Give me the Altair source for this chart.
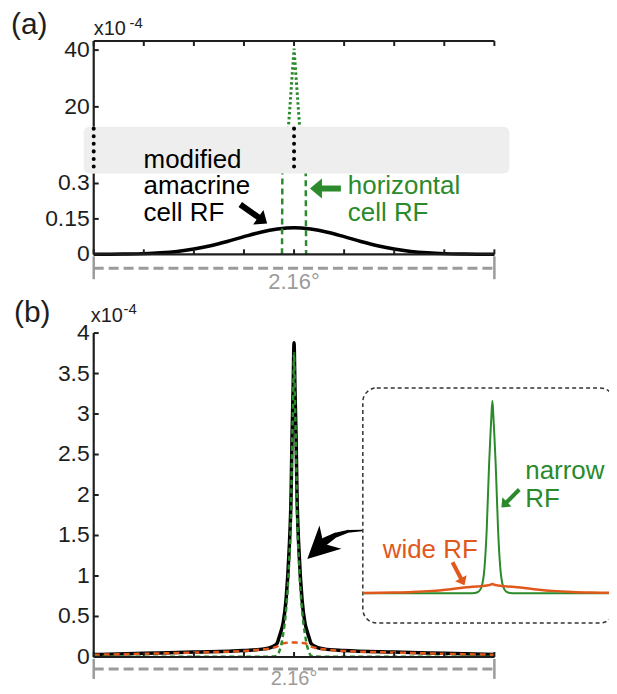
import altair as alt
import pandas as pd

FONT = "Liberation Sans"
INK = "#1e1e1e"
GREEN = "#2b8a2b"
ORANGE = "#e0581c"
GRAY = "#9b9b9b"
BAND = "#eeeeee"

# ---------------- data ----------------
XTICKS = [-1.08, -0.81, -0.54, -0.27, 0, 0.27, 0.54, 0.81, 1.08]
A_TOP_YTICKS = [20, 40]
A_TOP_YLABELS = ["20", "40"]
A_LOW_YTICKS = [0, 0.15, 0.3]
A_LOW_YLABELS = ["0", "0.15", "0.3"]
B_YTICKS = [0, 0.5, 1, 1.5, 2, 2.5, 3, 3.5, 4]
B_YLABELS = ["0", "0.5", "1", "1.5", "2", "2.5", "3", "3.5", "4"]

# (a) modified amacrine cell RF (x1e-4)
A_X = [-1.08, -0.99, -0.9, -0.81, -0.72, -0.63, -0.54, -0.45, -0.36, -0.27, -0.18, -0.09, 0,
       0.09, 0.18, 0.27, 0.36, 0.45, 0.54, 0.63, 0.72, 0.81, 0.9, 0.99, 1.08]
A_AMACRINE = [0.0001, 0.0004, 0.0012, 0.0029, 0.0063, 0.0123, 0.0222, 0.0364, 0.0545, 0.0747, 0.0936, 0.107, 0.113,
              0.107, 0.0936, 0.0747, 0.0545, 0.0364, 0.0222, 0.0123, 0.0063, 0.0029, 0.0012, 0.0004, 0.0001]
# (a) horizontal cell RF (x1e-4)
A_HX = [-0.065, -0.062, -0.03, 0, 0.03, 0.062, 0.065]
A_HORIZ = [0, 0.5, 13, 40.5, 13, 0.5, 0]

# (b) curves (x1e-4)
B_X = [-1.08, -0.806, -0.537, -0.269, -0.161, -0.118, -0.091, -0.081, -0.07, -0.059, -0.043, -0.027, -0.016, -0.011, -0.005, 0,
       0.005, 0.011, 0.016, 0.027, 0.043, 0.059, 0.07, 0.081, 0.091, 0.118, 0.161, 0.269, 0.537, 0.806, 1.08]
B_SUM = [0.03, 0.045, 0.06, 0.08, 0.1, 0.125, 0.17, 0.24, 0.32, 0.42, 0.71, 1.3, 2.0, 2.7, 3.3, 3.88,
         3.3, 2.7, 2.0, 1.3, 0.71, 0.42, 0.32, 0.24, 0.17, 0.125, 0.1, 0.08, 0.06, 0.045, 0.03]
B_WIDE = [0.027, 0.04, 0.055, 0.075, 0.095, 0.11, 0.13, 0.145, 0.16, 0.17, 0.174, 0.176, 0.177, 0.178, 0.179, 0.18,
          0.179, 0.178, 0.177, 0.176, 0.174, 0.17, 0.16, 0.145, 0.13, 0.11, 0.095, 0.075, 0.055, 0.04, 0.027]
B_NARROW = [0.002, 0.002, 0.003, 0.004, 0.004, 0.005, 0.015, 0.06, 0.14, 0.28, 0.58, 1.15, 1.85, 2.55, 3.15, 3.75,
            3.15, 2.55, 1.85, 1.15, 0.58, 0.28, 0.14, 0.06, 0.015, 0.005, 0.004, 0.004, 0.003, 0.002, 0.002]

# (b) inset (relative units)
I_X = [-1.3, -1.0, -0.8, -0.6, -0.4, -0.2, -0.15, -0.12, -0.1, -0.085, -0.07, -0.057, -0.045, -0.033, -0.02, -0.01, 0,
       0.01, 0.02, 0.033, 0.045, 0.057, 0.07, 0.085, 0.1, 0.12, 0.15, 0.2, 0.4, 0.6, 0.8, 1.0, 1.3]
I_NARROW = [0, 0, 0, 0, 0, 0, 0.005, 0.02, 0.05, 0.1, 0.2, 0.33, 0.5, 0.67, 0.82, 0.92, 1.0,
            0.92, 0.82, 0.67, 0.5, 0.33, 0.2, 0.1, 0.05, 0.02, 0.005, 0, 0, 0, 0, 0, 0]
I_WIDE = [0.001, 0.003, 0.006, 0.012, 0.022, 0.033, 0.035, 0.036, 0.037, 0.038, 0.039, 0.04, 0.041, 0.042, 0.044, 0.046, 0.048,
          0.046, 0.044, 0.042, 0.041, 0.04, 0.039, 0.038, 0.037, 0.036, 0.035, 0.033, 0.022, 0.012, 0.006, 0.003, 0.001]

# ---------------- layout ----------------
W = 402
H_A1, H_A2, H_A3, H_SP, H_B = 86, 47, 81, 79, 325

XS = alt.Scale(domain=[-1.08, 1.08], nice=False, zero=False)
YS_A1 = alt.Scale(domain=[13, 43.2], nice=False, zero=False)
YS_A2 = alt.Scale(domain=[0, 1], nice=False, zero=False)
YS_A3 = alt.Scale(domain=[0, 0.342], nice=False, zero=False)
YS_B = alt.Scale(domain=[0, 4], nice=False, zero=False)
IXS = alt.Scale(domain=[-1.3, 1.3], range=[270, 530], nice=False, zero=False)
IYS = alt.Scale(domain=[0, 1], range=[261, 68], nice=False, zero=False)

HEAD = "M 0.6 0 L -0.6 -1 L -0.6 1 Z"
BARB = "M 1 0 L -1 -1 L -0.4 0 L -1 1 Z"
TXT = 26


def X(field="x", sc=XS):
    return alt.X(f"{field}:Q", scale=sc, axis=None)


def Y(field, sc):
    return alt.Y(f"{field}:Q", scale=sc, axis=None)


def xticks(h, top):
    df = pd.DataFrame({"v": XTICKS})
    if top:
        yy, yy2 = alt.value(0), alt.value(5)
    else:
        yy, yy2 = alt.value(h), alt.value(h - 5)
    return alt.Chart(df).mark_rule(color=INK, strokeWidth=2).encode(x=X("v"), y=yy, y2=yy2)


def yticks(vals, ys):
    df = pd.DataFrame({"v": vals})
    return alt.Chart(df).mark_rule(color=INK, strokeWidth=2).encode(
        y=Y("v", ys), x=alt.value(0), x2=alt.value(5))


def ylabels(vals, labs, ys):
    df = pd.DataFrame({"v": vals, "t": labs})
    return alt.Chart(df).mark_text(font=FONT, fontSize=23, color=INK, align="right",
                                   baseline="middle").encode(
        y=Y("v", ys), x=alt.value(-4), text="t:N")


def hline(y_px):
    return alt.Chart(pd.DataFrame({"x": [-1.08], "x2": [1.08]})).mark_rule(
        color=INK, strokeWidth=2.2).encode(x=X("x"), x2="x2", y=alt.value(y_px))


def vline(h):
    return alt.Chart(pd.DataFrame({"x": [0]})).mark_rule(color=INK, strokeWidth=2.2).encode(
        x=alt.value(0), y=alt.value(0), y2=alt.value(h))


def marker(x_px, y_px):
    # invisible 1px rule used only to pin the outer extent of the drawing
    return alt.Chart(pd.DataFrame({"x": [0]})).mark_rule(opacity=0, strokeWidth=1).encode(
        x=alt.value(x_px), y=alt.value(y_px), y2=alt.value(y_px + 1))


def plabel(text, x, y, size, color=INK, align="left", baseline="alphabetic"):
    df = pd.DataFrame({"t": [text]})
    return alt.Chart(df).mark_text(font=FONT, fontSize=size, color=color, align=align,
                                   baseline=baseline).encode(
        x=alt.value(x), y=alt.value(y), text="t:N")


def dtext(texts, xs_, ys_, xsc, ysc, size, color, align="left"):
    df = pd.DataFrame({"t": texts, "x": xs_, "y": ys_})
    return alt.Chart(df).mark_text(font=FONT, fontSize=size, color=color, align=align,
                                   baseline="alphabetic").encode(
        x=X("x", xsc), y=Y("y", ysc), text="t:N")


def arrow(x, y, hx, hy, ang, size, color, width, xsc, ysc, shape=HEAD):
    shaft = alt.Chart(pd.DataFrame({"x": [x], "y": [y], "x2": [hx], "y2": [hy]})).mark_rule(
        color=color, strokeWidth=width).encode(x=X("x", xsc), y=Y("y", ysc), x2="x2", y2="y2")
    head = alt.Chart(pd.DataFrame({"x": [hx], "y": [hy]})).mark_point(
        shape=shape, filled=True, opacity=1, size=size, angle=ang, color=color, strokeWidth=0).encode(
        x=X("x", xsc), y=Y("y", ysc))
    return shaft + head


def scale_bar(y_line, y_cap1, y_cap2, y_lab, fsize=22):
    bar = alt.Chart(pd.DataFrame({"x": [-1.08], "x2": [1.08]})).mark_rule(
        color=GRAY, strokeWidth=3, strokeDash=[10, 5]).encode(x=X("x"), x2="x2", y=alt.value(y_line))
    caps = alt.Chart(pd.DataFrame({"x": [-1.08, 1.08]})).mark_rule(
        color=GRAY, strokeWidth=2.5).encode(x=X("x"), y=alt.value(y_cap1), y2=alt.value(y_cap2))
    lab = alt.Chart(pd.DataFrame({"x": [0], "t": ["2.16°"]})).mark_text(
        font=FONT, fontSize=fsize, color=GRAY, baseline="middle").encode(
        x=X("x"), y=alt.value(y_lab), text="t:N")
    return bar + caps + lab


# ---------------- (a) top ----------------
h_df = pd.DataFrame({"x": A_HX, "y": A_HORIZ})
a1_green = alt.Chart(h_df).mark_line(clip=True, color=GREEN, strokeWidth=3, strokeDash=[2.5, 2.5]).encode(
    x=X("x"), y=Y("y", YS_A1))
a1 = alt.layer(
    a1_green, hline(0), vline(H_A1), xticks(H_A1, True), yticks(A_TOP_YTICKS, YS_A1),
    ylabels(A_TOP_YTICKS, A_TOP_YLABELS, YS_A1),
    plabel("(a)", -83, -16, 30, baseline="middle"),
    plabel("x10", 0, -6, 20),
    plabel("-4", 36, -13, 15),
    marker(0, -60),
).properties(width=W, height=H_A1)

# ---------------- (a) break band ----------------
band = alt.Chart(pd.DataFrame({"x": [-1.134], "x2": [1.161], "y": [0], "y2": [1]})).mark_rect(
    color=BAND, cornerRadius=6).encode(x=X("x"), x2="x2", y=Y("y", YS_A2), y2="y2")
brk = alt.Chart(pd.DataFrame({"x": [-1.08, 0], "y": [0.15, 0.15], "y2": [0.96, 0.96]})).mark_rule(
    color="black", strokeWidth=4, strokeDash=[0.1, 7.5], strokeCap="round").encode(
    x=X("x"), y=Y("y", YS_A2), y2="y2")
a2 = alt.layer(band, brk).properties(width=W, height=H_A2)

# ---------------- (a) bottom ----------------
am_df = pd.DataFrame({"x": A_X, "y": A_AMACRINE})
a3_black = alt.Chart(am_df).mark_line(color="black", strokeWidth=3.5, interpolate="monotone").encode(
    x=X("x"), y=Y("y", YS_A3))
a3_green = alt.Chart(h_df).mark_line(clip=True, color=GREEN, strokeWidth=2.5, strokeDash=[6, 4]).encode(
    x=X("x"), y=Y("y", YS_A3))
a3 = alt.layer(
    a3_black, a3_green, hline(H_A3), vline(H_A3), xticks(H_A3, False), yticks(A_LOW_YTICKS, YS_A3),
    ylabels(A_LOW_YTICKS, A_LOW_YLABELS, YS_A3),
    dtext(["modified", "amacrine", "cell RF"], [-0.811] * 3, [0.3674, 0.2534, 0.1394], XS, YS_A3, TXT, "black"),
    dtext(["horizontal", "cell RF"], [0.29] * 2, [0.2534, 0.1394], XS, YS_A3, TXT, GREEN),
    arrow(-0.290, 0.211, -0.169, 0.144, 35, 324, "black", 6, XS, YS_A3),
    arrow(0.2525, 0.2787, 0.118, 0.2787, 180, 400, GREEN, 6, XS, YS_A3),
).properties(width=W, height=H_A3)

# ---------------- spacer with scale bar ----------------
sp = scale_bar(14, 2, 25, 28).properties(width=W, height=H_SP)

# ---------------- (b) ----------------
b_df = pd.DataFrame({"x": B_X, "sum": B_SUM, "wide": B_WIDE, "narrow": B_NARROW})
b_black = alt.Chart(b_df).mark_line(color="black", strokeWidth=3.5, interpolate="monotone").encode(
    x=X("x"), y=Y("sum", YS_B))
b_orange = alt.Chart(b_df).mark_line(color=ORANGE, strokeWidth=2.5, strokeDash=[6, 4],
                                     interpolate="monotone").encode(x=X("x"), y=Y("wide", YS_B))
b_green = alt.Chart(b_df).mark_line(color=GREEN, strokeWidth=2.5, strokeDash=[5, 3.5],
                                    interpolate="monotone").encode(x=X("x"), y=Y("narrow", YS_B))

swoosh = alt.Chart(pd.DataFrame({"x": [0.3654, 0.2901, 0.2203, 0.1665], "y": [1.563, 1.551, 1.5015, 1.4277],
                                 "w": [1.5, 3, 5, 8]})).mark_trail(color="black").encode(
    x=X("x"), y=Y("y", YS_B), size=alt.Size("w:Q", scale=None, legend=None))
swoosh_head = alt.Chart(pd.DataFrame({"x": [0.1338], "y": [1.345]})).mark_point(
    shape=BARB, filled=True, opacity=1, size=1024, angle=136.5, color="black", strokeWidth=0).encode(
    x=X("x"), y=Y("y", YS_B))

b_main = alt.layer(
    b_black, b_orange, b_green, hline(H_B), vline(H_B), xticks(H_B, False), yticks(B_YTICKS, YS_B),
    ylabels(B_YTICKS, B_YLABELS, YS_B),
    swoosh, swoosh_head,
    scale_bar(337, 327, 347, 347, fsize=20),
    plabel("(b)", -80, -20, 30, baseline="middle"),
    plabel("x10", -3, -11, 20),
    plabel("-4", 30, -19, 15),
    marker(560, 380),
)

i_df = pd.DataFrame({"x": I_X, "narrow": I_NARROW, "wide": I_WIDE})
box = alt.Chart(pd.DataFrame({"x": [-1.3], "x2": [1.22], "y": [-0.155], "y2": [1.067]})).mark_rect(
    fill="white", stroke="#333333", strokeWidth=1.5, strokeDash=[4, 3], cornerRadius=14).encode(
    x=X("x", IXS), x2="x2", y=Y("y", IYS), y2="y2")
i_green = alt.Chart(i_df).mark_line(color=GREEN, strokeWidth=2, interpolate="monotone").encode(
    x=X("x", IXS), y=Y("narrow", IYS))
i_orange = alt.Chart(i_df).mark_line(color=ORANGE, strokeWidth=2.5, interpolate="monotone").encode(
    x=X("x", IXS), y=Y("wide", IYS))
b_inset = alt.layer(
    box, i_green, i_orange,
    dtext(["narrow", "RF"], [0.33, 0.33], [0.596, 0.446], IXS, IYS, TXT, GREEN),
    dtext(["wide RF"], [-1.10], [0.181], IXS, IYS, TXT, ORANGE),
    arrow(0.27, 0.539, 0.118, 0.46, 135, 169, GREEN, 4, IXS, IYS),
    arrow(-0.40, 0.1606, -0.298, 0.0596, 62.4, 169, ORANGE, 4, IXS, IYS),
)

b = alt.layer(b_main, b_inset).resolve_scale(x="independent", y="independent").properties(
    width=W, height=H_B)

# top marker at -60 (a1) -> crop to -31; bottom marker at 381 (b) -> crop to page 686;
# right marker at 560 -> crop to page 609 (svg no wider than the page body)
chart = alt.vconcat(a1, a2, a3, sp, b, spacing=0, bounds="flush").properties(
    padding={"left": 2, "top": -29, "right": -44, "bottom": -27}
).configure_view(stroke="transparent")

chart.save("out.html", embed_options={"renderer": "svg", "actions": False})
